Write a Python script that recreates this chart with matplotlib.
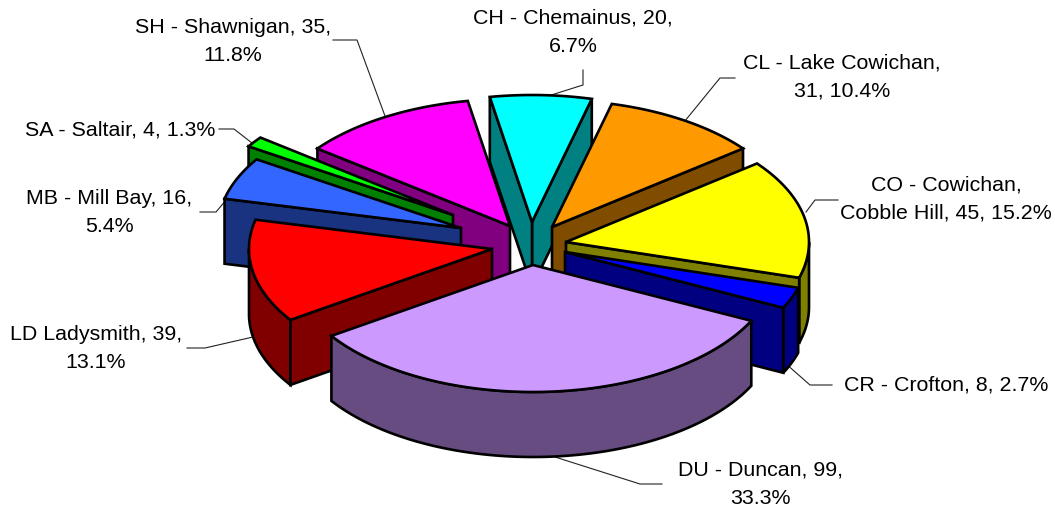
import numpy as np
import matplotlib
matplotlib.use('Agg')
import matplotlib.pyplot as plt
from matplotlib.patches import Polygon

plt.rcParams['font.family'] = ['Liberation Sans', 'DejaVu Sans']

# ---- data (drawn clockwise from the start angle)
names = ['CH', 'CL', 'CO', 'CR', 'DU', 'LD', 'MB', 'SA', 'SH']
values = [20, 31, 45, 8, 99, 39, 16, 4, 35]
labels = ['CH - Chemainus, 20,\n6.7%', 'CL - Lake Cowichan,\n31, 10.4%',
          'CO - Cowichan,\nCobble Hill, 45, 15.2%', 'CR - Crofton, 8, 2.7%',
          'DU - Duncan, 99,\n33.3%', 'LD Ladysmith, 39,\n13.1%',
          'MB - Mill Bay, 16,\n5.4%', 'SA - Saltair, 4, 1.3%',
          'SH - Shawnigan, 35,\n11.8%']

# ---- styles and layout
top_colors = ['#00FFFF', '#FF9900', '#FFFF00', '#0000FF', '#CC99FF',
              '#FF0000', '#3366FF', '#00FF00', '#FF00FF']
side_colors = ['#008080', '#804C00', '#808000', '#000080', '#664C80',
               '#800000', '#1A3380', '#008000', '#800080']
apex = {'CH': (532, 222), 'CL': (552, 227), 'CO': (566, 242), 'CR': (565, 252),
        'DU': (533, 265), 'LD': (492, 249), 'MB': (461, 228), 'SA': (453, 215),
        'SH': (510, 226)}
label_pos = {'CH': (573, 32), 'CL': (842, 77), 'CO': (946, 199), 'CR': (946, 385),
             'DU': (760, 484), 'LD': (96, 349), 'MB': (109, 212), 'SA': (120, 130),
             'SH': (233, 41)}
leaders = {'CH': [(583, 70), (583, 85), (545, 97)],
           'CL': [(735, 78), (720, 78), (680, 127)],
           'CO': [(838, 200), (815, 200), (806, 212)],
           'CR': [(832, 385), (810, 385), (785, 363)],
           'DU': [(662, 484), (640, 484), (555, 457)],
           'LD': [(187, 348), (205, 348), (253, 337)],
           'MB': [(200, 212), (216, 212), (243, 180)],
           'SA': [(219, 129), (234, 129), (252, 143)],
           'SH': [(333, 40), (357, 40), (385, 116)]}
order = ['SH', 'CH', 'CL', 'SA', 'MB', 'CO', 'LD', 'CR', 'DU']
A, B, DEPTH, START = 243, 127, 65, -10
LW = 1.9

fig = plt.figure(figsize=(10.55, 5.09), dpi=100, facecolor='white')
ax = fig.add_axes([0, 0, 1, 1])
ax.set_xlim(0, 1055)
ax.set_ylim(509, 0)
ax.axis('off')

fracs = np.array(values) / sum(values) * 360
ends = START + np.cumsum(fracs)
starts = ends - fracs


def rim(c, th):
    t = np.radians(th)
    return np.column_stack([c[0] + A * np.sin(t), c[1] - B * np.cos(t)])


def wall(c, th):
    p = rim(c, [th])[0]
    return [c, p, (p[0], p[1] + DEPTH), (c[0], c[1] + DEPTH)]


for n in order:
    i = names.index(n)
    c = apex[n]
    s, e = starts[i], ends[i]
    kw = dict(facecolor=side_colors[i], edgecolor='black', linewidth=LW,
              joinstyle='miter', zorder=3)
    # outer curved wall: only the part turned towards the viewer
    lo, hi = max(s, 90), min(e, 270)
    if hi > lo:
        arc = rim(c, np.linspace(lo, hi, 80))
        ax.add_patch(Polygon(np.vstack([arc, (arc + [0, DEPTH])[::-1]]), **kw))
    # radial cut faces
    if 0 < (e % 360) < 180:
        ax.add_patch(Polygon(wall(c, e), **kw))
    if 180 < (s % 360) < 360:
        ax.add_patch(Polygon(wall(c, s), **kw))
    arc = rim(c, np.linspace(s, e, 100))
    ax.add_patch(Polygon(np.vstack([[c], arc]), facecolor=top_colors[i],
                         edgecolor='black', linewidth=LW, joinstyle='miter', zorder=3))

for i, n in enumerate(names):
    pts = np.array(leaders[n])
    ax.plot(pts[:, 0], pts[:, 1], color='#222222', lw=0.8, zorder=1)
    ax.text(*label_pos[n], labels[i], ha='center', va='center', fontsize=15.4,
            color='black', linespacing=1.6, zorder=4)

fig.savefig('out.png', dpi=100)
